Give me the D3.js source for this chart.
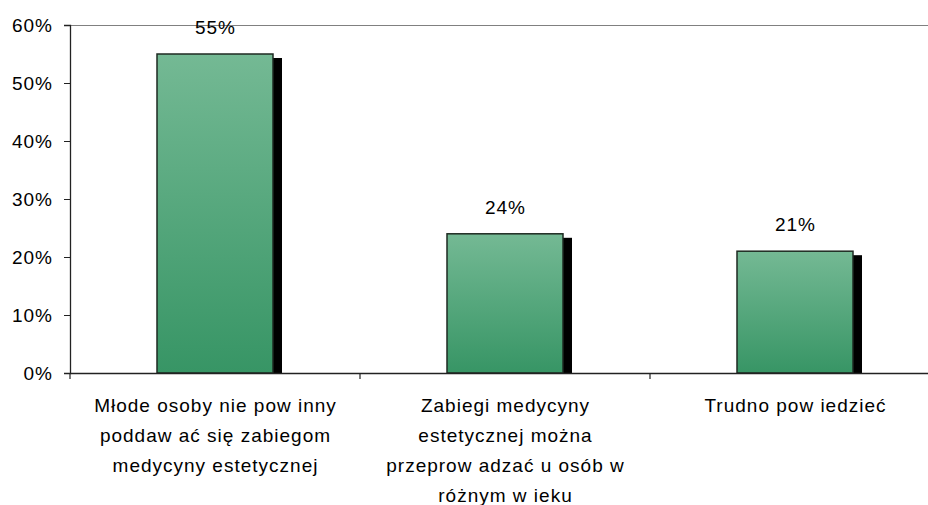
<!DOCTYPE html>
<html><head><meta charset="utf-8">
<script src="https://cdn.jsdelivr.net/npm/d3@7"></script>
<style>body{margin:0;background:#fff}svg{display:block}text{font-family:"Liberation Sans",Arial,sans-serif;fill:#000;letter-spacing:1px}</style>
</head><body>
<svg id="c" width="928" height="505"></svg>
<script>
const categories = [
  ["Młode osoby nie pow inny", "poddaw ać się zabiegom", "medycyny estetycznej"],
  ["Zabiegi medycyny", "estetycznej można", "przeprow adzać u osób w", "różnym w ieku"],
  ["Trudno pow iedzieć"]
];
const values = [55, 24, 21];
const valueLabels = ["55%", "24%", "21%"];
const yTicks = [0, 10, 20, 30, 40, 50, 60];

const svg = d3.select("#c");
const m = {left: 70, top: 25, right: 940, bottom: 373};
const x = d3.scaleBand().domain(d3.range(values.length)).range([m.left, m.right]).paddingInner(0).paddingOuter(0);
const y = d3.scaleLinear().domain([0, 60]).range([m.bottom, m.top]);

const defs = svg.append("defs");
const g = defs.append("linearGradient").attr("id","gr").attr("x1",0).attr("y1",0).attr("x2",0).attr("y2",1);
g.append("stop").attr("offset","0%").attr("stop-color","#74b994");
g.append("stop").attr("offset","100%").attr("stop-color","#379565");

svg.append("line").attr("x1", m.left).attr("x2", m.right).attr("y1", m.top+0.5).attr("y2", m.top+0.5).attr("stroke","#808080").attr("stroke-width",1.2);

const bw = x.bandwidth()*0.4;
const bx = i => x(i) + (x.bandwidth()-bw)/2;
svg.selectAll("rect.sh").data(values).join("rect").attr("class","sh")
  .attr("x",(d,i)=>bx(i)+9).attr("y",d=>y(d)+4).attr("width",bw).attr("height",d=>m.bottom-y(d)-4).attr("fill","#000");
svg.selectAll("rect.bar").data(values).join("rect").attr("class","bar")
  .attr("x",(d,i)=>bx(i)).attr("y",d=>y(d)).attr("width",bw).attr("height",d=>m.bottom-y(d))
  .attr("fill","url(#gr)").attr("stroke","#1e2a22").attr("stroke-width",1.5);

svg.selectAll("text.vl").data(values).join("text").attr("class","vl")
  .attr("x",(d,i)=>x(i)+x.bandwidth()/2+0.5).attr("y",d=>y(d)-20)
  .attr("text-anchor","middle").style("font-size","19px").text((d,i)=>valueLabels[i]);

const ya = svg.append("g").attr("transform",`translate(${m.left},0)`)
  .call(d3.axisLeft(y).tickValues(yTicks).tickFormat(d=>d+"%").tickSize(6).tickPadding(11));
ya.select(".domain").attr("stroke","#222").attr("stroke-width",1.3);
ya.selectAll(".tick line").attr("stroke","#222");
ya.selectAll(".tick text").style("font-size","19px").attr("dy","0.36em");

const xa = svg.append("g").attr("transform",`translate(0,${m.bottom})`)
  .call(d3.axisBottom(x).tickValues([]).tickSizeOuter(0));
xa.select(".domain").attr("stroke","#222").attr("stroke-width",1.3);
const tickPos = [0,1,2,3].map(i => m.left + i*x.bandwidth());
svg.selectAll("line.xt").data(tickPos).join("line").attr("class","xt")
  .attr("x1",d=>d).attr("x2",d=>d).attr("y1",m.bottom).attr("y2",m.bottom+6).attr("stroke","#222").attr("stroke-width",1.2);

categories.forEach((lines,i)=>{
  const t = svg.append("text").attr("text-anchor","middle").style("font-size","19px");
  lines.forEach((l,j)=>{
    t.append("tspan").attr("x", x(i)+x.bandwidth()/2+0.5).attr("y", 412 + j*30).text(l);
  });
});
</script>
</body></html>
